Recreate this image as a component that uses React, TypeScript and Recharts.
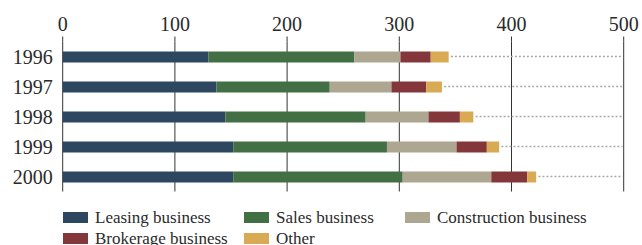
import React from "react";
import {
  BarChart,
  Bar,
  XAxis,
  YAxis,
  CartesianGrid,
  ReferenceLine,
} from "recharts";

const YEARS = ["1996", "1997", "1998", "1999", "2000"];
const LEASING = [130, 137, 145, 152, 152];
const SALES = [130, 101, 125, 137, 151];
const CONSTRUCTION = [41, 55, 56, 62, 79];
const BROKERAGE = [27, 31, 28, 27, 32];
const OTHER = [16, 14, 12, 11, 8];
const X_TICKS = [0, 100, 200, 300, 400, 500];

const SERIES = [
  { key: "leasing", name: "Leasing business", color: "#2d4760", values: LEASING },
  { key: "sales", name: "Sales business", color: "#436f44", values: SALES },
  { key: "construction", name: "Construction business", color: "#ada690", values: CONSTRUCTION },
  { key: "brokerage", name: "Brokerage business", color: "#83373b", values: BROKERAGE },
  { key: "other", name: "Other", color: "#d8aa53", values: OTHER },
];

const FONT = "'Liberation Serif', 'Times New Roman', serif";
const TEXT_COLOR = "#2a2a2a";
const GRID_COLOR = "#333";

const data = YEARS.map((year, i) => {
  const row: Record<string, string | number> = { year };
  let total = 0;
  SERIES.forEach((s) => {
    row[s.key] = s.values[i];
    total += s.values[i];
  });
  row.total = total;
  return row;
});

export default function App() {
  return (
    <div
      style={{
        position: "absolute",
        left: 0,
        top: 0,
        width: 642,
        height: 245,
        background: "#fff",
        fontFamily: FONT,
      }}
    >
      <BarChart
        width={642}
        height={200}
        data={data}
        layout="vertical"
        margin={{ top: 0, right: 18.3, left: 0, bottom: 8.5 }}
      >
        <CartesianGrid horizontal={false} stroke={GRID_COLOR} strokeWidth={1} />
        <XAxis
          type="number"
          orientation="top"
          domain={[0, 500]}
          ticks={X_TICKS}
          height={41.5}
          axisLine={false}
          tickLine={{ stroke: GRID_COLOR }}
          tickSize={5}
          tickMargin={6}
          tick={{ fontFamily: FONT, fontSize: 20, fill: TEXT_COLOR }}
        />
        <YAxis
          type="category"
          dataKey="year"
          width={62.7}
          axisLine={false}
          tickLine={false}
          tickMargin={4}
          tick={{ fontFamily: FONT, fontSize: 20, fill: TEXT_COLOR }}
        />
        {data.map((d) => (
          <ReferenceLine
            key={String(d.year)}
            segment={[
              { x: Number(d.total) + 2, y: d.year },
              { x: 499, y: d.year },
            ]}
            stroke="#a8a8a8"
            strokeWidth={1.5}
            strokeDasharray="2 2"
          />
        ))}
        {SERIES.map((s) => (
          <Bar
            key={s.key}
            dataKey={s.key}
            name={s.name}
            stackId="a"
            fill={s.color}
            barSize={11}
            isAnimationActive={false}
          />
        ))}
      </BarChart>

      {/* Legend */}
      <div
        style={{
          position: "absolute",
          left: 63,
          top: 207,
          display: "grid",
          gridTemplateColumns: "181px 161px auto",
          gridAutoRows: "21px",
          fontSize: 17,
          color: TEXT_COLOR,
        }}
      >
        {SERIES.map((s) => (
          <div key={s.key} style={{ display: "flex", alignItems: "center" }}>
            <span
              style={{
                display: "inline-block",
                width: 25,
                height: 10.5,
                backgroundColor: s.color,
                marginRight: 7,
              }}
            />
            <span style={{ lineHeight: "21px" }}>{s.name}</span>
          </div>
        ))}
      </div>
    </div>
  );
}
